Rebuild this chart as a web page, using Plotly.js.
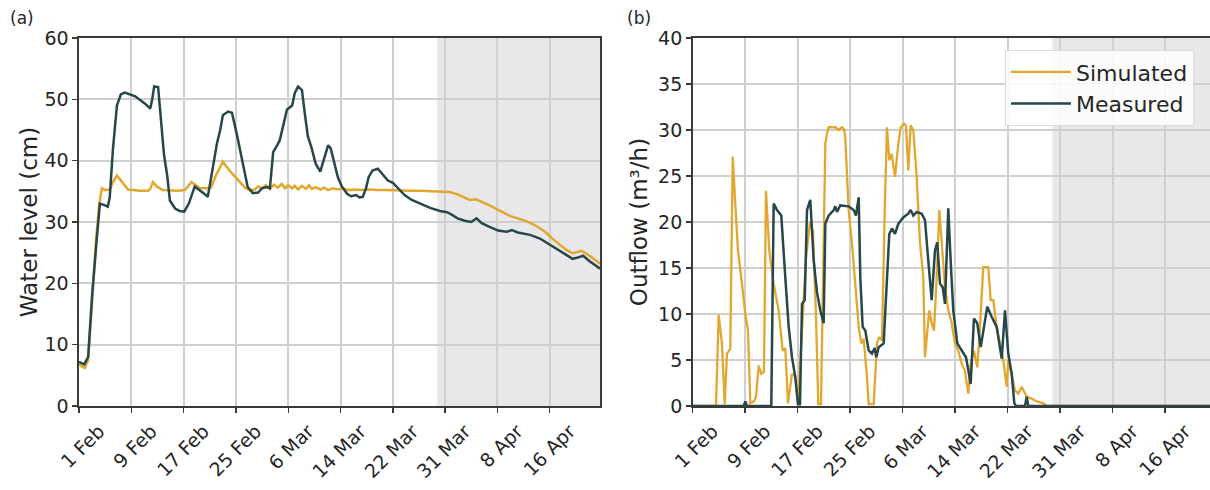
<!DOCTYPE html>
<html>
<head>
<meta charset="utf-8">
<script src="https://cdn.plot.ly/plotly-3.0.1.min.js"></script>
<style>html,body{margin:0;padding:0;background:#fff;}#chart{width:1210px;height:490px;}</style>
</head>
<body>
<div id="chart"></div>
<script>
// ---- Data (x = days since 1 Feb) ----
const tickDays = [0, 8, 16, 24, 32, 40, 48, 56, 64, 72];
const tickLabels = ['1 Feb', '9 Feb', '17 Feb', '25 Feb', '6 Mar', '14 Mar', '22 Mar', '31 Mar', '8 Apr', '16 Apr'];
const validationStart = 54.8;
const dayEnd = 79.7;

// (a) Water level (cm)
const levelSimDay = [0,0.5,0.9,1.4,2.0,2.6,3.1,3.5,4.0,4.7,5.2,5.8,6.6,7.5,8.3,9.3,10.6,10.9,11.3,11.9,12.8,13.9,15.1,16.2,16.7,17.2,17.9,18.5,19.7,20.2,20.9,22.0,23.1,24.3,25.4,26.1,26.9,27.4,28.0,28.6,29.2,29.8,30.4,31.0,31.5,32.0,32.6,33.0,33.5,34.1,34.7,35.2,35.6,36.2,36.9,37.5,38.1,38.8,39.6,40.4,41.1,42.2,43.3,44.5,45.7,47.2,48.8,50.6,52.1,53.7,55.7,56.7,57.9,59.0,59.8,60.7,61.6,62.8,64.4,65.9,67.1,68.5,69.7,71.3,72.5,73.5,74.6,75.5,76.3,76.9,78.1,79.7];
const levelSim = [6.9,6.4,6.2,7.5,17,27,33,35.5,35.2,35.3,36.5,37.6,36.5,35.3,35.2,35.1,35.1,35.4,36.5,35.8,35.2,35.1,35.1,35.2,35.8,36.5,36.0,35.5,35.5,35.6,37.5,39.8,38.3,36.8,35.6,35.2,35.3,35.8,35.5,36.0,35.4,36.1,35.6,36.2,35.5,36.0,35.5,35.9,35.3,35.9,35.4,36.0,35.4,35.7,35.3,35.6,35.2,35.5,35.3,35.5,35.2,35.3,35.2,35.3,35.2,35.2,35.1,35.1,35.1,35.0,34.9,34.9,34.5,34.0,33.6,33.7,33.3,32.7,31.8,31.0,30.6,30.1,29.5,28.4,27.2,26.3,25.4,24.9,25.2,25.3,24.5,23.2];

const levelMeasDay = [0,0.8,1.4,2.0,2.7,3.2,3.8,4.4,4.7,5.2,5.8,6.4,7.0,8.6,10.1,10.9,11.2,11.5,12.1,12.5,13.0,13.5,13.9,14.7,15.4,16.1,16.8,17.7,18.5,19.3,19.7,20.3,21.1,21.6,22.0,22.8,23.4,24.2,24.9,25.4,25.8,26.6,27.4,28.0,28.7,29.2,29.7,30.3,30.7,31.3,31.8,32.6,33.0,33.5,34.1,34.6,35.0,35.6,36.2,36.9,37.5,38.1,38.5,39.0,39.6,40.2,41.0,41.6,42.4,42.9,43.4,43.9,44.3,44.9,45.7,46.5,47.2,48.0,48.8,49.8,50.9,52.1,53.7,55.2,56.3,57.0,57.9,59.0,60.0,60.8,61.6,62.8,64.1,65.4,66.2,67.1,69.0,70.5,72.0,73.5,74.6,75.5,76.3,77.1,78.1,78.9,79.7];
const levelMeas = [7.2,6.8,8,18,27,33,32.8,32.5,34,42,49,50.8,51.1,50.5,49.3,48.5,50,52.1,52,47,41,37.5,33.5,32.2,31.8,31.7,33,35.8,35.2,34.5,34.1,38,42.8,45,47.4,48,47.8,44,40.5,37.5,35.7,34.7,34.8,35.5,35.7,35.5,41.4,42.5,43.3,46,48.3,49,51,52.1,51.5,47.2,44,42,39.5,38.2,40.5,42.5,42,40,37.3,35.8,34.6,34.2,34.4,34.0,34.1,35.5,37.3,38.4,38.7,37.7,36.8,36.4,35.5,34.4,33.6,33.0,32.3,31.8,31.6,31.2,30.6,30.2,30.0,30.6,29.8,29.2,28.6,28.4,28.7,28.3,27.9,27.3,26.3,25.3,24.6,24.0,24.2,24.5,23.6,23.0,22.4];

// (b) Outflow (m3/h)
const flowSimDay = [0,3.55,3.96,4.46,4.88,5.23,5.73,6.10,6.49,6.90,7.51,8.02,8.43,8.78,9.34,9.65,10.06,10.45,10.86,11.17,11.67,12.34,13.10,13.71,14.11,14.52,15.13,15.63,16.05,16.66,17.26,17.87,18.33,18.78,19.14,19.55,20.21,20.47,20.72,21.73,22.25,22.75,23.05,23.25,23.77,24.27,24.78,25.30,25.69,26.06,26.56,26.82,27.58,28.08,28.43,28.85,29.26,29.61,29.96,30.32,30.83,31.33,31.70,32.20,32.50,32.85,33.22,33.62,34.13,34.64,35.14,35.40,36.05,36.42,36.77,37.18,37.58,37.94,38.45,38.95,39.47,39.97,40.47,40.99,41.49,42.00,42.36,42.86,43.37,43.78,44.28,45.04,45.41,45.81,46.32,46.83,47.33,47.85,48.09,48.61,49.11,49.62,50.13,50.90,51.66,52.42,53.42,53.94,79.7];
const flowSim = [0,0,9.9,6.8,0.2,5.7,6.2,27.1,22,16.9,13.3,10,8.2,0.3,0.5,1.0,4.4,3.5,3.7,23.4,16.9,13.3,10.4,6.0,6.3,0.3,3.5,3.2,0.2,8,16,20,19,10,0.2,0.2,28.5,29.6,30.3,30.3,30.0,30.3,30.1,29.2,21.3,17.7,13.3,8.6,6.8,7.3,3.2,0.2,0.2,6.8,7.5,7.1,21.3,30.3,26.7,27.4,24.9,28.5,30.3,30.7,30.5,25.6,30.5,30.0,24.9,17.7,14.0,5.3,10.4,9.0,8.2,14,21.3,17.7,12.9,10.4,9.0,6.8,6.0,4.6,3.8,1.35,4.6,6.0,4.2,8.6,15.1,15.1,11.5,11.5,8.6,6.8,5.0,2.1,5.0,3.5,1.7,1.35,2.1,1.0,0.8,0.5,0.3,0,0];

const flowMeasDay = [0,7.77,8.02,8.27,11.98,12.34,12.85,13.50,14.11,14.63,15.13,15.63,16.05,16.35,16.66,17.07,17.42,17.92,18.44,18.94,19.44,19.96,20.21,20.72,21.49,21.73,21.99,22.49,23.77,24.53,24.88,25.30,25.54,25.90,26.30,26.82,27.32,27.73,27.98,28.34,29.10,29.61,29.96,30.37,30.83,31.33,32.09,32.85,33.22,33.62,34.13,34.90,35.40,35.90,36.42,36.92,37.27,37.68,38.10,38.45,38.95,39.31,39.71,40.32,40.99,41.65,42.00,42.36,42.86,43.37,43.89,44.89,45.56,46.32,47.09,47.59,48.09,48.61,49.01,49.27,50.64,50.90,51.14,79.7];
const flowMeas = [0,0,0.5,0,0,22.0,21.3,20.7,14.0,8.6,5.3,3.2,0.2,0.2,11.1,11.5,21.3,22.4,15.8,12.4,10.4,9.0,19.8,20.7,21.3,21.7,21.1,21.8,21.7,21.3,20.7,22.7,14.0,8.6,8.2,6.05,5.7,6.3,5.3,6.4,6.8,14.0,18.7,19.3,18.7,19.8,20.5,20.9,21.3,20.7,21.1,20.9,20.2,15.8,11.5,16.9,17.8,13.3,12.9,11.1,21.5,15.8,10.4,6.8,6.05,5.3,3.9,2.4,9.5,9.0,6.4,10.8,9.7,8.6,5.15,10.4,5.7,3.5,0.3,0,0,1.0,0,0];

// ---- Styles ----
const simColor = '#E2A72E';
const measColor = '#27474A';
const gridColor = '#cfcfcf';
const axisColor = '#3a3a3a';
const fontFam = 'DejaVu Sans, sans-serif';
const textColor = '#262626';

const traces = [
  {x: levelSimDay, y: levelSim, xaxis: 'x', yaxis: 'y', mode: 'lines', name: 'Simulated', line: {color: simColor, width: 2.5}, showlegend: false},
  {x: levelMeasDay, y: levelMeas, xaxis: 'x', yaxis: 'y', mode: 'lines', name: 'Measured', line: {color: measColor, width: 2.5}, showlegend: false},
  {x: flowSimDay, y: flowSim, xaxis: 'x2', yaxis: 'y2', mode: 'lines', name: 'Simulated', line: {color: simColor, width: 2.3}},
  {x: flowMeasDay, y: flowMeas, xaxis: 'x2', yaxis: 'y2', mode: 'lines', name: 'Measured', line: {color: measColor, width: 2.5}}
];

function xAxis(domain, range, anchor, mirror) {
  return {
    domain: domain, range: range, anchor: anchor,
    tickmode: 'array', tickvals: tickDays, ticktext: tickLabels, tickangle: -45,
    ticklabelshift: 20,
    showgrid: true, gridcolor: gridColor, gridwidth: 2,
    showline: true, linecolor: axisColor, linewidth: 1.6, mirror: mirror,
    ticks: 'outside', ticklen: 5, tickwidth: 1.4, tickcolor: axisColor,
    tickfont: {family: fontFam, size: 19, color: textColor},
    zeroline: false, fixedrange: true
  };
}
function yAxis(range, dtick, anchor, title, mirror, standoff) {
  return {
    range: range, dtick: dtick, anchor: anchor,
    showgrid: true, gridcolor: gridColor, gridwidth: 2,
    showline: true, linecolor: axisColor, linewidth: 1.6, mirror: mirror,
    ticks: 'outside', ticklen: 5, tickwidth: 1.4, tickcolor: axisColor,
    tickfont: {family: fontFam, size: 19, color: textColor},
    title: {text: title, font: {family: fontFam, size: 23, color: textColor}, standoff: standoff},
    zeroline: false, fixedrange: true
  };
}

const layout = {
  width: 1210, height: 490,
  margin: {l: 79, r: 0, t: 38, b: 84},
  paper_bgcolor: '#ffffff', plot_bgcolor: '#ffffff',
  font: {family: fontFam, color: textColor},
  xaxis: xAxis([0, 0.4607], [0, dayEnd], 'y', true),
  yaxis: yAxis([0, 60], 10, 'x', 'Water level (cm)', true, 0),
  xaxis2: xAxis([0.5426, 1], [0, 78.83], 'y2', true),
  yaxis2: yAxis([0, 40], 5, 'x2', 'Outflow (m³/h)', false, 4),
  shapes: [
    {type: 'rect', xref: 'x', yref: 'y domain', x0: validationStart, x1: dayEnd, y0: 0, y1: 1, fillcolor: '#e8e8ea', line: {width: 0}, layer: 'below'},
    {type: 'rect', xref: 'x2', yref: 'y2 domain', x0: validationStart, x1: dayEnd, y0: 0, y1: 1, fillcolor: '#e8e8ea', line: {width: 0}, layer: 'below'}
  ],
  annotations: [
    {text: '(a)', xref: 'paper', yref: 'paper', x: -0.0628, y: 1.054, xanchor: 'left', yanchor: 'middle', showarrow: false, font: {family: fontFam, size: 17, color: textColor}},
    {text: '(b)', xref: 'paper', yref: 'paper', x: 0.4828, y: 1.054, xanchor: 'left', yanchor: 'middle', showarrow: false, font: {family: fontFam, size: 17, color: textColor}}
  ],
  legend: {
    x: 0.8187, y: 0.967, xanchor: 'left', yanchor: 'top',
    bgcolor: 'rgba(255,255,255,0.85)', bordercolor: '#dcdcdc', borderwidth: 1,
    font: {family: fontFam, size: 22, color: textColor},
    itemwidth: 60
  },
  showlegend: true
};

Plotly.newPlot('chart', traces, layout, {staticPlot: true, displayModeBar: false});
</script>
</body>
</html>
